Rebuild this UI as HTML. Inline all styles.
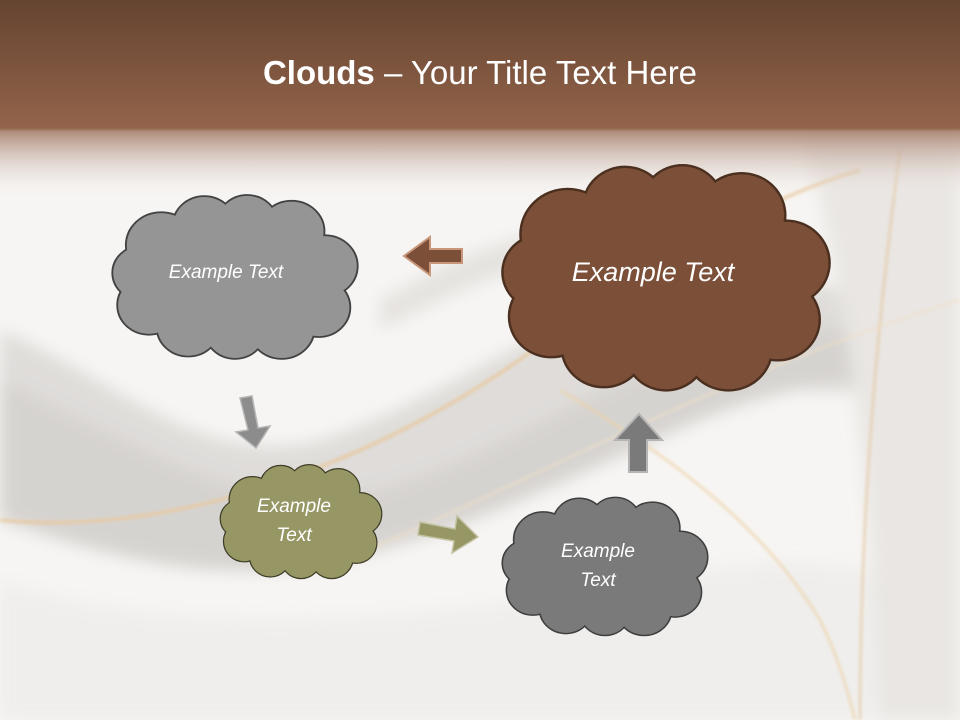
<!DOCTYPE html>
<html><head><meta charset="utf-8"><style>
html,body{margin:0;padding:0}
body{width:960px;height:720px;overflow:hidden;position:relative;font-family:"Liberation Sans",sans-serif;background:#f7f5f3}
svg{position:absolute;left:0;top:0}
.t{position:absolute;color:#fff;font-style:italic;text-align:center;font-family:"Liberation Sans",sans-serif}
</style></head><body>
<svg width="960" height="720" viewBox="0 0 960 720">
<defs>
<linearGradient id="hd" x1="0" y1="0" x2="0" y2="1">
<stop offset="0" stop-color="#654431"/><stop offset="0.64" stop-color="#93644a"/><stop offset="0.66" stop-color="#b08f7e"/><stop offset="1" stop-color="#f7f5f3" stop-opacity="0"/>
</linearGradient>
<filter id="bl"><feGaussianBlur stdDeviation="8"/></filter>
<filter id="bl2"><feGaussianBlur stdDeviation="1.5"/></filter>
<g id="cc">
<circle cx="40" cy="42" r="28"/><circle cx="75" cy="25" r="25"/><circle cx="110" cy="23" r="24"/><circle cx="146" cy="30" r="26"/><circle cx="173" cy="60" r="26"/><circle cx="168" cy="96" r="25"/><circle cx="138" cy="114" r="26"/><circle cx="100" cy="116" r="24"/><circle cx="62" cy="113" r="25"/><circle cx="30" cy="94" r="25"/><circle cx="24" cy="66" r="23"/><ellipse cx="100" cy="70" rx="80" ry="50"/>
</g>
<g id="cloud"><use href="#cc" stroke-width="3" vector-effect="non-scaling-stroke"/><use href="#cc" stroke="none"/></g>
</defs>
<rect width="960" height="720" fill="#f7f5f3"/>
<g filter="url(#bl)" opacity="0.65">
<path d="M0 330 C120 380 200 470 320 440 C450 400 560 300 700 280 C800 270 900 300 960 330 L960 420 C860 380 760 380 640 420 C520 470 380 560 220 560 C120 560 40 520 0 500 Z" fill="#d3d0cd"/>
<path d="M0 380 C150 450 250 520 380 490 C520 450 620 360 780 330 C860 320 920 340 960 360 L960 390 C880 370 800 380 700 420 C560 480 420 560 260 570 C160 575 60 540 0 520Z" fill="#c4c1be"/>
<path d="M0 580 C200 650 500 610 700 570 C820 550 900 570 960 610 L960 720 L0 720Z" fill="#ecebe9"/>
<path d="M800 130 C840 250 870 450 880 720 L960 720 L960 130Z" fill="#e2dfdc"/>
<path d="M380 300 C420 280 480 240 560 230 L560 260 C500 270 440 300 380 330Z" fill="#dcd9d6"/>
</g>
<g fill="none" filter="url(#bl2)">
<path d="M0 520 C200 540 420 440 560 330 C660 260 760 200 860 170" stroke="#e8c9a0" stroke-width="3"/>
<path d="M560 390 C660 450 760 520 820 620 C840 660 850 700 855 720" stroke="#ecd2a8" stroke-width="2"/>
<path d="M900 150 C880 300 860 500 860 720" stroke="#e5c9a5" stroke-width="2"/>
<path d="M340 560 C500 500 700 380 960 300" stroke="#f0dfc4" stroke-width="1.5"/>
</g>
<rect width="960" height="200" fill="url(#hd)"/>
<use href="#cloud" transform="translate(112,197) scale(1.23,1.15)" fill="#959595" stroke="#424242"/>
<use href="#cloud" transform="translate(502,168) scale(1.64,1.58)" fill="#7b4f38" stroke="#4b2f1f"/>
<use href="#cloud" transform="translate(220,466) scale(0.81,0.8)" fill="#979665" stroke="#3e3e27"/>
<use href="#cloud" transform="translate(502,499) scale(1.03,0.97)" fill="#7a7a7a" stroke="#3e3e3e"/>
<path d="M462 249 L430 249 L430 237 L404 256 L430 275 L430 263 L462 263Z" fill="#7b4f38" stroke="#c9967a" stroke-width="2"/>
<path d="M240 398 L252 396 L258 428 L270 426 L256 448 L236 432 L248 430Z" fill="#8c8c8c" stroke="#b5b5b5" stroke-width="1.5"/>
<path d="M420 522 L455 529 L457 516 L478 537 L452 553 L454 541 L418 535Z" fill="#979665" stroke="#c4c3a3" stroke-width="1.5"/>
<path d="M629 472 L629 440 L615 440 L639 414 L662 440 L647 440 L647 472Z" fill="#7a7a7a" stroke="#b5b5b5" stroke-width="2"/>
</svg>
<div style="position:absolute;left:0;top:54px;width:960px;text-align:center;color:#fff;font-size:33px;font-family:'Liberation Sans',sans-serif"><b>Clouds</b> – Your Title Text Here</div>
<div class="t" style="left:112px;top:262px;width:228px;font-size:19px">Example Text</div>
<div class="t" style="left:502px;top:257px;width:302px;font-size:27px">Example Text</div>
<div class="t" style="left:220px;top:492px;width:148px;font-size:19px;line-height:29px">Example<br>Text</div>
<div class="t" style="left:502px;top:537px;width:192px;font-size:19px;line-height:29px">Example<br>Text</div>
</body></html>
